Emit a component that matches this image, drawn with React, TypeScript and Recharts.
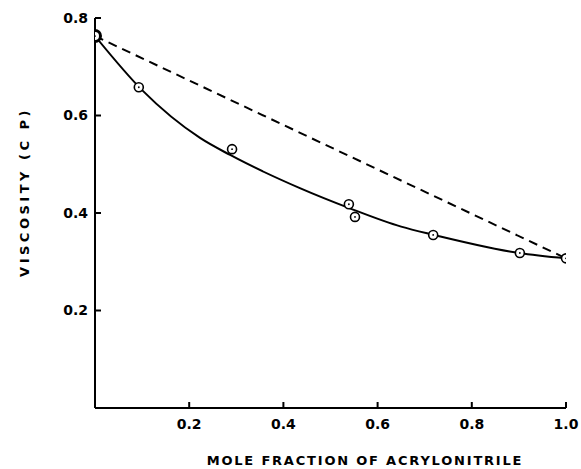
import React from 'react'
import {
  ComposedChart,
  Line,
  Scatter,
  XAxis,
  YAxis,
  Label,
} from 'recharts'

// measured points (mole fraction, viscosity cP)
const moleFraction = [0, 0.093, 0.291, 0.539, 0.552, 0.718, 0.902, 1.0]
const viscosity = [0.763, 0.658, 0.531, 0.418, 0.392, 0.355, 0.318, 0.307]

// smooth curve drawn through the data
const curveX = [0, 0.1, 0.223, 0.287, 0.435, 0.54, 0.65, 0.72, 0.9, 1.0]
const curveY = [0.763, 0.652, 0.554, 0.519, 0.451, 0.41, 0.372, 0.355, 0.318, 0.307]

// ideal (linear) mixing line
const idealX = [0, 1.0]
const idealY = [0.763, 0.307]

const xTicks = [0.2, 0.4, 0.6, 0.8, 1.0]
const yTicks = [0.2, 0.4, 0.6, 0.8]

const points = moleFraction.map((x, i) => ({ x, y: viscosity[i] }))
const curve = curveX.map((x, i) => ({ x, y: curveY[i] }))
const ideal = idealX.map((x, i) => ({ x, y: idealY[i] }))

const FONT = '"DejaVu Sans", sans-serif'

function OpenDot(props: any) {
  const { cx, cy, index } = props
  if (cx == null || cy == null) return null
  const first = index === 0
  return (
    <g>
      <circle
        cx={cx}
        cy={cy}
        r={first ? 5.5 : 4.5}
        fill="#fff"
        stroke="#000"
        strokeWidth={first ? 3 : 1.6}
      />
      <circle cx={cx} cy={cy} r={0.9} fill="#000" />
    </g>
  )
}

const tickStyle = { fontSize: 14, fontWeight: 'bold', fill: '#000', fontFamily: FONT }

export default function App() {
  return (
    <div style={{ position: 'fixed', top: 8, left: 8, width: 573, height: 461, background: '#fff' }}>
      <ComposedChart
        width={573}
        height={461}
        margin={{ top: 10, right: 15, left: 0, bottom: 31 }}
      >
        <XAxis
          type="number"
          dataKey="x"
          domain={[0, 1]}
          ticks={xTicks}
          tickFormatter={(v: number) => v.toFixed(1)}
          height={30}
          tickSize={-6}
          tickMargin={17}
          stroke="#000"
          strokeWidth={2}
          tick={tickStyle}
          allowDataOverflow
        >
          <Label
            content={() => (
              <text
                x={357}
                y={457}
                textAnchor="middle"
                fontFamily={FONT}
                fontSize={13}
                fontWeight="bold"
                letterSpacing={1.8}
                fill="#000"
              >
                MOLE FRACTION OF ACRYLONITRILE
              </text>
            )}
          />
        </XAxis>
        <YAxis
          type="number"
          dataKey="y"
          domain={[0, 0.8]}
          ticks={yTicks}
          tickFormatter={(v: number) => v.toFixed(1)}
          width={87}
          tickSize={-6}
          tickMargin={13}
          stroke="#000"
          strokeWidth={2}
          tick={tickStyle}
          allowDataOverflow
        >
          <Label
            content={() => (
              <text
                x={21}
                y={184}
                transform="rotate(-90 21 184)"
                textAnchor="middle"
                fontFamily={FONT}
                fontSize={13}
                fontWeight="bold"
                letterSpacing={3.5}
                fill="#000"
              >
                VISCOSITY  (C P)
              </text>
            )}
          />
        </YAxis>
        <Line
          data={ideal}
          dataKey="y"
          type="linear"
          stroke="#000"
          strokeWidth={2}
          strokeDasharray="9 6"
          dot={false}
          isAnimationActive={false}
        />
        <Line
          data={curve}
          dataKey="y"
          type="monotone"
          stroke="#000"
          strokeWidth={2}
          dot={false}
          isAnimationActive={false}
        />
        <Scatter
          data={points}
          dataKey="y"
          shape={<OpenDot />}
          isAnimationActive={false}
        />
      </ComposedChart>
    </div>
  )
}
